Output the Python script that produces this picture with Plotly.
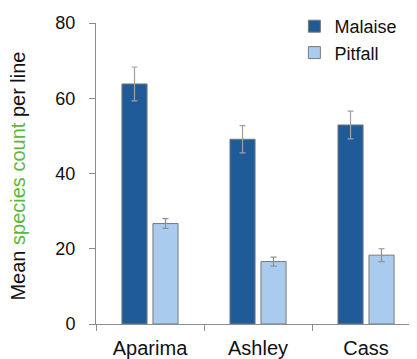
import plotly.graph_objects as go

sites = ["Aparima", "Ashley", "Cass"]
malaise = [63.8, 49.1, 52.9]
malaise_err = [4.5, 3.6, 3.7]
pitfall = [26.7, 16.6, 18.3]
pitfall_err = [1.3, 1.2, 1.7]
y_ticks = [0, 20, 40, 60, 80]

fig = go.Figure()
fig.add_trace(go.Bar(
    x=sites, y=malaise, name="Malaise",
    marker=dict(color="#1f5b99", line=dict(color="#7a7a7a", width=1)),
    error_y=dict(type="data", array=malaise_err, color="#a0a0a0", thickness=1.2, width=3),
))
fig.add_trace(go.Bar(
    x=sites, y=pitfall, name="Pitfall",
    marker=dict(color="#a9cbee", line=dict(color="#7a7a7a", width=1)),
    error_y=dict(type="data", array=pitfall_err, color="#909090", thickness=1.2, width=3),
))

fig.update_layout(
    width=417, height=359,
    margin=dict(l=88, r=0, t=14, b=43),
    paper_bgcolor="white", plot_bgcolor="white",
    barmode="group", bargap=0.426, bargroupgap=0.19,
    font=dict(family="Liberation Sans, Arial, sans-serif", color="#111111"),
    showlegend=True,
    legend=dict(x=0.603, y=1.05, xanchor="left", yanchor="top",
                font=dict(size=18, family="Liberation Sans, Arial, sans-serif", color="#111111"),
                bgcolor="rgba(0,0,0,0)", tracegroupgap=0),
)
fig.update_xaxes(
    range=[-0.5, 2.546], showline=True, linecolor="#8c8c8c", linewidth=1,
    ticks="outside", tickson="boundaries", ticklen=6, tickcolor="#8c8c8c",
    ticklabelstandoff=6,
    tickfont=dict(size=20, color="#111111"), showgrid=False,
)
fig.update_yaxes(
    range=[0, 80], tickvals=y_ticks, showline=True, linecolor="#8c8c8c", linewidth=1,
    ticks="outside", ticklen=6, tickcolor="#8c8c8c", ticklabelstandoff=10,
    tickfont=dict(size=18, color="#111111"), showgrid=False, zeroline=False,
)
fig.add_annotation(
    xref="paper", yref="paper", x=-0.240, y=0.49, xanchor="center", yanchor="middle",
    textangle=-90, showarrow=False,
    text="Mean <span style='color:#5cb83c'>species count</span> per line",
    font=dict(size=20, color="#111111"),
)

fig.write_html("out.html")
